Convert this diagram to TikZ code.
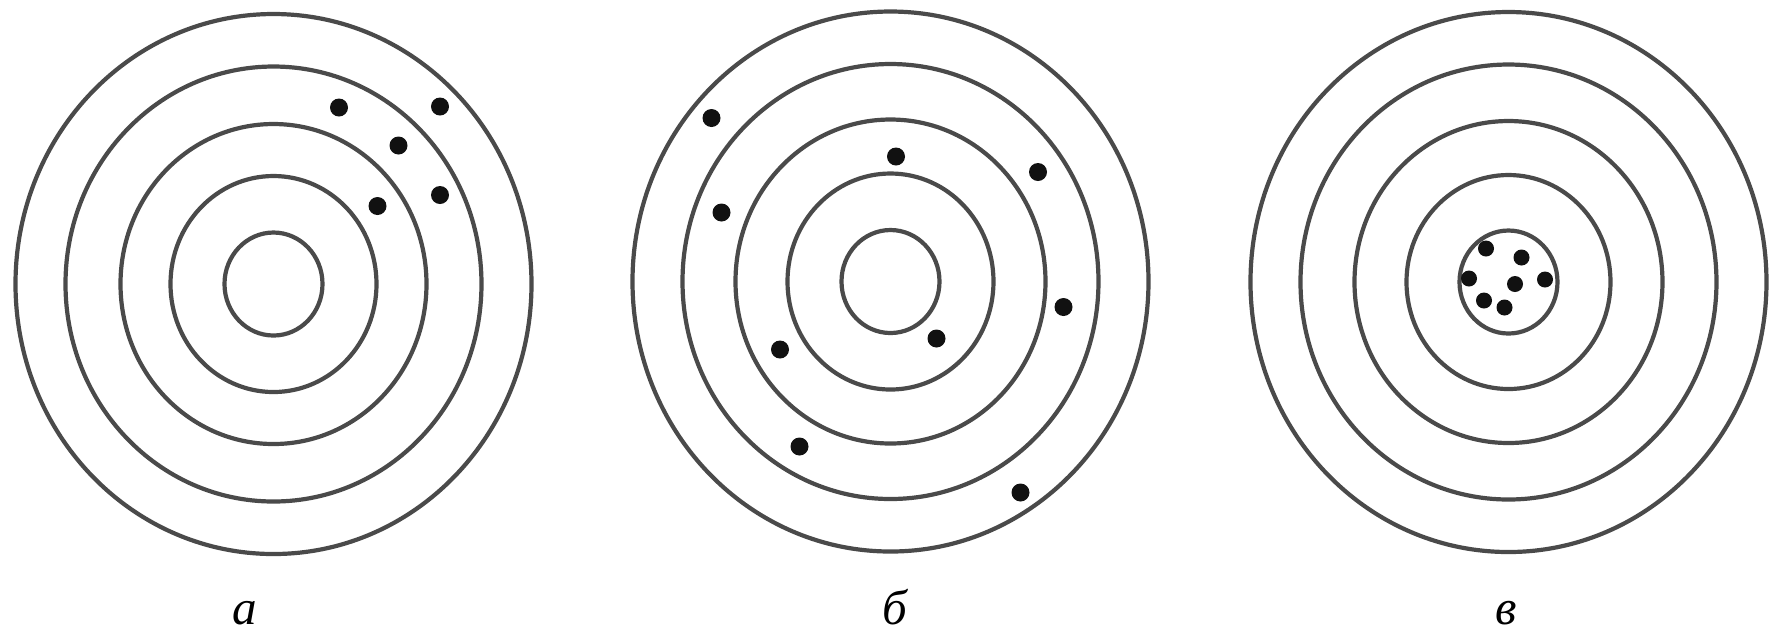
\documentclass[tikz,border=0pt]{standalone}
\usepackage{fontspec}
\setmainfont{Liberation Serif}
\usetikzlibrary{positioning}
\definecolor{RingGray}{HTML}{4A4A4A}
\definecolor{HitBlack}{HTML}{111111}

\begin{document}
\begin{tikzpicture}[
    x=0.1mm, y=-0.1mm,
    % Target Styles
    ring/.style={draw=RingGray, line width=0.42mm},
    hit/.style={fill=HitBlack},
    caption/.style={font=\fontsize{14}{16}\selectfont\itshape, anchor=base, inner sep=0pt}
]
    \useasboundingbox (0,0) rectangle (1787,633);

    % ==========================================
    % TARGET a: shots grouped, off centre
    % ==========================================
    \begin{scope}[shift={(273.5,284)}]
        \draw[ring] (0,0) ellipse (258 and 270);
        \draw[ring] (0,0) ellipse (208 and 217.5);
        \draw[ring] (0,0) ellipse (153 and 160);
        \draw[ring] (0,0) ellipse (103 and 108);
        \draw[ring] (0,0) ellipse (49 and 51.5);

        \fill[hit] (65.5,-176.5) circle[radius=9];
        \fill[hit] (166.5,-177.5) circle[radius=9];
        \fill[hit] (125,-138.5) circle[radius=9];
        \fill[hit] (166.5,-89) circle[radius=9];
        \fill[hit] (104,-78) circle[radius=9];
    \end{scope}
    \node[caption] (capA) at (245,624) {а};

    % ==========================================
    % TARGET b: shots scattered
    % ==========================================
    \begin{scope}[shift={(890.5,281.5)}]
        \draw[ring] (0,0) ellipse (258 and 270);
        \draw[ring] (0,0) ellipse (208 and 217.5);
        \draw[ring] (0,0) ellipse (155 and 162);
        \draw[ring] (0,0) ellipse (103 and 108);
        \draw[ring] (0,0) ellipse (49 and 51.5);

        \fill[hit] (-179,-163.5) circle[radius=9];
        \fill[hit] (5.5,-125) circle[radius=9];
        \fill[hit] (147.5,-109.5) circle[radius=9];
        \fill[hit] (-169,-69) circle[radius=9];
        \fill[hit] (173,25.5) circle[radius=9];
        \fill[hit] (46,57) circle[radius=9];
        \fill[hit] (-110.5,68) circle[radius=9];
        \fill[hit] (-91,165) circle[radius=9];
        \fill[hit] (130,211) circle[radius=9];
    \end{scope}
    \node[caption] (capB) at (895,624) {б};

    % ==========================================
    % TARGET c: shots grouped in the centre
    % ==========================================
    \begin{scope}[shift={(1508.5,282)}]
        \draw[ring] (0,0) ellipse (258 and 270);
        \draw[ring] (0,0) ellipse (208 and 217.5);
        \draw[ring] (0,0) ellipse (154 and 161);
        \draw[ring] (0,0) ellipse (102 and 107);
        \draw[ring] (0,0) ellipse (49 and 51.5);

        \fill[hit] (-22.5,-33.5) circle[radius=8];
        \fill[hit] (13,-24.5) circle[radius=8];
        \fill[hit] (-39.5,-3.5) circle[radius=8];
        \fill[hit] (6.5,2) circle[radius=8];
        \fill[hit] (36.5,-2.5) circle[radius=8];
        \fill[hit] (-24.5,18.5) circle[radius=8];
        \fill[hit] (-4,25.5) circle[radius=8];
    \end{scope}
    \node[caption] (capC) at (1506,624) {в};

\end{tikzpicture}
\end{document}
